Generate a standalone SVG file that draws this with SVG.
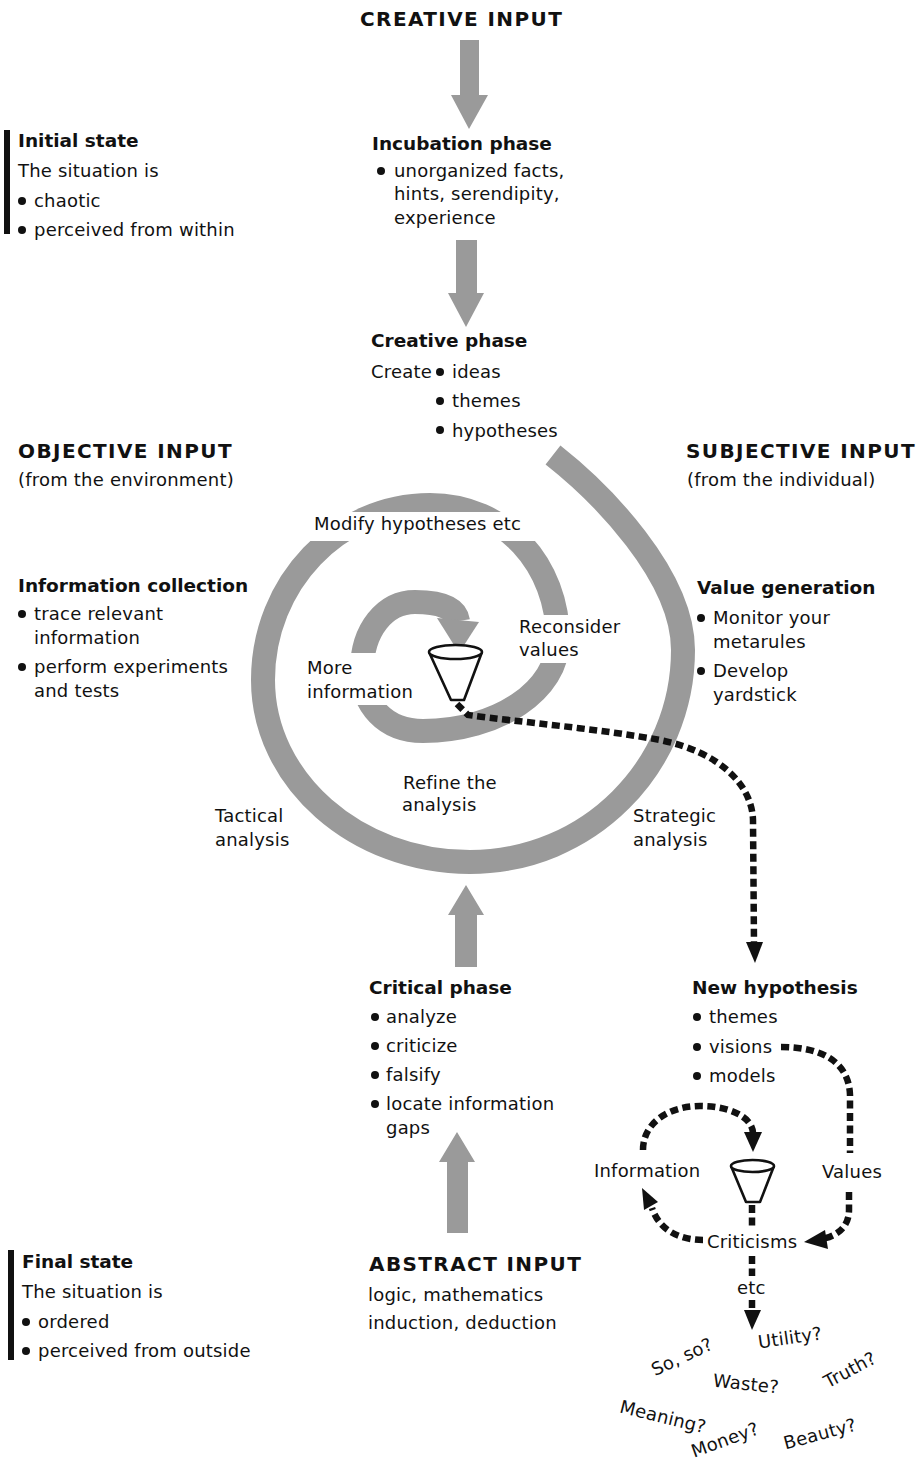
<svg xmlns="http://www.w3.org/2000/svg" width="923" height="1462" viewBox="0 0 923 1462">
  <style>
    text { font-family: "DejaVu Sans", "Liberation Sans", sans-serif; fill: #111; }
    .t { font-size: 18px; letter-spacing: 0.2px; }
    .b { font-size: 18.5px; font-weight: bold; }
    .h { font-size: 20px; font-weight: bold; letter-spacing: 1.4px; }
    .band { fill: none; stroke: #9a9a9a; stroke-width: 24; stroke-linecap: butt; }
    .blk { fill: #9a9a9a; }
    .dash { fill: none; stroke: #111; stroke-width: 6.5; stroke-dasharray: 8 4.5; }
    .head { fill: #111; }
    .bul { fill: #111; }
    .bar { fill: #111; }
    .funnel { fill: #fff; stroke: #111; stroke-width: 2.6; stroke-linejoin: round; }
    .knock { fill: #fff; }
  </style>

  <!-- top -->
  <g id="creative-input">
    <text class="h" x="360" y="26">CREATIVE INPUT</text>
  </g>

  <g id="initial-state">
    <rect class="bar" x="4" y="130" width="6" height="104"/>
    <text class="b" x="18" y="147">Initial state</text>
    <text class="t" x="18" y="177">The situation is</text>
    <circle class="bul" cx="22" cy="201" r="4"/>
    <text class="t" x="34" y="207">chaotic</text>
    <circle class="bul" cx="22" cy="230" r="4"/>
    <text class="t" x="34" y="236">perceived from within</text>
  </g>

  <g id="incubation-phase">
    <text class="b" x="372" y="150">Incubation phase</text>
    <circle class="bul" cx="381" cy="171" r="4"/>
    <text class="t" x="394" y="177">unorganized facts,</text>
    <text class="t" x="394" y="200">hints, serendipity,</text>
    <text class="t" x="394" y="224">experience</text>
  </g>

  <g id="creative-phase">
    <text class="b" x="371" y="347">Creative phase</text>
    <text class="t" x="371" y="378">Create</text>
    <circle class="bul" cx="440" cy="372" r="4"/>
    <text class="t" x="452" y="378">ideas</text>
    <circle class="bul" cx="440" cy="401" r="4"/>
    <text class="t" x="452" y="407">themes</text>
    <circle class="bul" cx="440" cy="430" r="4"/>
    <text class="t" x="452" y="437">hypotheses</text>
  </g>

  <g id="objective-input">
    <text class="h" x="18" y="458">OBJECTIVE INPUT</text>
    <text class="t" x="18" y="486">(from the environment)</text>
  </g>

  <g id="subjective-input">
    <text class="h" x="686" y="458">SUBJECTIVE INPUT</text>
    <text class="t" x="687" y="486">(from the individual)</text>
  </g>

  <g id="information-collection">
    <text class="b" x="18" y="592">Information collection</text>
    <circle class="bul" cx="22" cy="614" r="4"/>
    <text class="t" x="34" y="620">trace relevant</text>
    <text class="t" x="34" y="644">information</text>
    <circle class="bul" cx="22" cy="667" r="4"/>
    <text class="t" x="34" y="673">perform experiments</text>
    <text class="t" x="34" y="697">and tests</text>
  </g>

  <g id="value-generation">
    <text class="b" x="697" y="594">Value generation</text>
    <circle class="bul" cx="701" cy="618" r="4"/>
    <text class="t" x="713" y="624">Monitor your</text>
    <text class="t" x="713" y="648">metarules</text>
    <circle class="bul" cx="701" cy="671" r="4"/>
    <text class="t" x="713" y="677">Develop</text>
    <text class="t" x="713" y="701">yardstick</text>
  </g>

  <!-- the analysis spiral, winding inward to the funnel -->
  <g id="analysis-spiral">
    <path class="band" d="M553,455 C600,492 683,575 683,650 C683,767 588,862 470,862 C356,862 263,780 263,680 C263,583 338,505 430,505 C505,505 558,565 558,640 C558,690 498,731 423,731 C385,731 362,705 362,670 C362,630 385,602 415,602 C440,602 456,608 458,621"/>
    <polygon class="blk" points="437,618 479,622 459,653"/>
    <!-- white grounds under the labels that sit on the band -->
    <rect class="knock" x="298" y="512" width="258" height="29"/>
    <rect class="knock" x="515" y="615" width="110" height="48"/>
    <rect class="knock" x="303" y="653" width="117" height="52"/>
    <text class="t" x="314" y="530">Modify hypotheses etc</text>
    <text class="t" x="519" y="633">Reconsider</text>
    <text class="t" x="519" y="656">values</text>
    <text class="t" x="307" y="674">More</text>
    <text class="t" x="307" y="698">information</text>
    <text class="t" x="403" y="789">Refine the</text>
    <text class="t" x="402" y="811">analysis</text>
    <text class="t" x="215" y="822">Tactical</text>
    <text class="t" x="215" y="846">analysis</text>
    <text class="t" x="633" y="822">Strategic</text>
    <text class="t" x="633" y="846">analysis</text>
    <path class="funnel" d="M429,652 L451,700 L464,700 L482,652"/>
    <ellipse class="funnel" cx="455.5" cy="652" rx="26.5" ry="7"/>
  </g>

  <g id="critical-phase">
    <text class="b" x="369" y="994">Critical phase</text>
    <circle class="bul" cx="375" cy="1017" r="4"/>
    <text class="t" x="386" y="1023">analyze</text>
    <circle class="bul" cx="375" cy="1046" r="4"/>
    <text class="t" x="386" y="1052">criticize</text>
    <circle class="bul" cx="375" cy="1075" r="4"/>
    <text class="t" x="386" y="1081">falsify</text>
    <circle class="bul" cx="375" cy="1104" r="4"/>
    <text class="t" x="386" y="1110">locate information</text>
    <text class="t" x="386" y="1134">gaps</text>
  </g>

  <g id="new-hypothesis">
    <text class="b" x="692" y="994">New hypothesis</text>
    <circle class="bul" cx="697" cy="1017" r="4"/>
    <text class="t" x="709" y="1023">themes</text>
    <circle class="bul" cx="697" cy="1047" r="4"/>
    <text class="t" x="709" y="1053">visions</text>
    <circle class="bul" cx="697" cy="1076" r="4"/>
    <text class="t" x="709" y="1082">models</text>
  </g>

  <g id="criticism-loop">
    <text class="t" x="594" y="1177">Information</text>
    <text class="t" x="822" y="1178">Values</text>
    <path class="funnel" d="M731,1166 L746,1202 L760,1202 L774,1166"/>
    <ellipse class="funnel" cx="752.5" cy="1166" rx="21.5" ry="6"/>
    <text class="t" x="707" y="1248">Criticisms</text>
    <text class="t" x="737" y="1294">etc</text>
  </g>

  <g id="questions">
    <text class="t" transform="translate(790,1338) rotate(-8)" text-anchor="middle" y="6">Utility?</text>
    <text class="t" transform="translate(682,1357) rotate(-25)" text-anchor="middle" y="6">So, so?</text>
    <text class="t" transform="translate(746,1384) rotate(6)" text-anchor="middle" y="6">Waste?</text>
    <text class="t" transform="translate(850,1370) rotate(-28)" text-anchor="middle" y="6">Truth?</text>
    <text class="t" transform="translate(663,1417) rotate(14)" text-anchor="middle" y="6">Meaning?</text>
    <text class="t" transform="translate(725,1440) rotate(-20)" text-anchor="middle" y="6">Money?</text>
    <text class="t" transform="translate(820,1434) rotate(-15)" text-anchor="middle" y="6">Beauty?</text>
  </g>

  <g id="abstract-input">
    <text class="h" x="369" y="1271">ABSTRACT INPUT</text>
    <text class="t" x="368" y="1301">logic, mathematics</text>
    <text class="t" x="368" y="1329">induction, deduction</text>
  </g>

  <g id="final-state">
    <rect class="bar" x="8" y="1250" width="6" height="110"/>
    <text class="b" x="22" y="1268">Final state</text>
    <text class="t" x="22" y="1298">The situation is</text>
    <circle class="bul" cx="26" cy="1322" r="4"/>
    <text class="t" x="38" y="1328">ordered</text>
    <circle class="bul" cx="26" cy="1351" r="4"/>
    <text class="t" x="38" y="1357">perceived from outside</text>
  </g>

  <g id="connectors">
    <!-- broad grey flow arrows -->
    <polygon class="blk" points="460,40 479,40 479,95 488,95 469,129 451,95 460,95"/>
    <polygon class="blk" points="456,240 477,240 477,293 484,293 466,327 448,293 456,293"/>
    <polygon class="blk" points="466,885 484,915 477,915 477,967 455,967 455,915 448,915"/>
    <polygon class="blk" points="457,1132 475,1162 468,1162 468,1233 447,1233 447,1162 439,1162"/>

    <!-- funnel output to the new hypothesis -->
    <path class="dash" d="M457,704 L468,715 C520,722 600,729 660,740 C720,752 752,785 753,820 L754,944"/>
    <polygon class="head" points="746,942 763,942 755,963"/>

    <!-- criticism loop -->
    <path class="dash" d="M781,1047 C822,1047 849,1062 850,1095 L850,1153"/>
    <path class="dash" d="M849,1192 L849,1210 C849,1227 837,1236 822,1239"/>
    <polygon class="head" points="804,1242 825,1230 828,1249"/>
    <path class="dash" d="M703,1240 C682,1240 660,1232 652,1208"/>
    <polygon class="head" points="642,1188 658,1202 644,1210"/>
    <path class="dash" d="M643,1150 C643,1122 670,1106 700,1106 C728,1106 752,1116 753,1133"/>
    <polygon class="head" points="744,1132 762,1132 753,1152"/>
    <path class="dash" d="M752,1205 L752,1228"/>
    <path class="dash" d="M752,1256 L752,1276"/>
    <path class="dash" d="M752,1300 L752,1312"/>
    <polygon class="head" points="744,1310 761,1310 752,1330"/>
  </g>
</svg>
